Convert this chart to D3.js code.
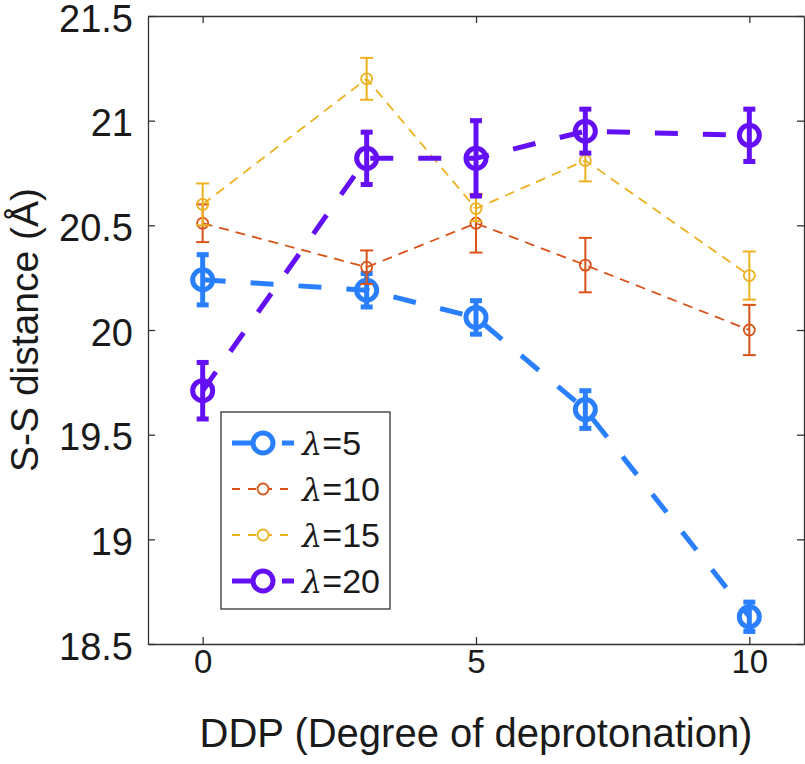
<!DOCTYPE html>
<html>
<head>
<meta charset="utf-8">
<script src="https://cdn.jsdelivr.net/npm/d3@7"></script>
<style>
  html, body { margin: 0; padding: 0; background: #fff; }
  svg { display: block; }
  text { font-family: "Liberation Sans", Arial, Helvetica, sans-serif; fill: #1a1a1a; }
</style>
</head>
<body>
<svg id="chart" width="805" height="764"></svg>
<script>
// ---------- data ----------
const ddp = [0, 3, 5, 7, 10];
const seriesLambda = ["5", "10", "15", "20"];
const lambda5  = [20.24, 20.19, 20.06, 19.62, 18.63];
const lambda5Err  = [0.12, 0.08, 0.08, 0.09, 0.07];
const lambda10 = [20.51, 20.30, 20.51, 20.31, 20.00];
const lambda10Err = [0.09, 0.08, 0.14, 0.13, 0.12];
const lambda15 = [20.60, 21.20, 20.58, 20.81, 20.26];
const lambda15Err = [0.10, 0.10, 0.06, 0.10, 0.115];
const lambda20 = [19.71, 20.82, 20.82, 20.95, 20.93];
const lambda20Err = [0.135, 0.125, 0.18, 0.105, 0.125];
const xTicks = [0, 5, 10];
const yTicks = [18.5, 19, 19.5, 20, 20.5, 21, 21.5];
const xLabel = "DDP (Degree of deprotonation)";
const yLabel = "S-S distance (Å)";

// ---------- styles ----------
const styles = [
  { color: "#2a7fff", lw: 5,   r: 10,  dash: "23,25", capW: 6,   ebw: 5 },
  { color: "#d95319", lw: 1.8, r: 5.5, dash: "10,7",  capW: 6.5, ebw: 2 },
  { color: "#edb120", lw: 1.8, r: 5.5, dash: "10,7",  capW: 6.5, ebw: 2 },
  { color: "#6410f5", lw: 5,   r: 10,  dash: "23,25", capW: 6,   ebw: 5 }
];
const values = [lambda5, lambda10, lambda15, lambda20];
const errors = [lambda5Err, lambda10Err, lambda15Err, lambda20Err];

const svg = d3.select("#chart");
const L = 148, R = 804, T = 16, B = 644;
const x = d3.scaleLinear().domain([-1, 11]).range([L, R]);
const y = d3.scaleLinear().domain([18.5, 21.5]).range([B, T]);

const axisColor = "#333";
const tickLen = 7;

// axes (box with inward ticks)
const gx = svg.append("g").attr("transform", `translate(0,${B})`)
  .call(d3.axisBottom(x).tickValues(xTicks).tickSizeInner(-tickLen).tickSizeOuter(0).tickPadding(29).tickFormat(d3.format("d")));
const gxTop = svg.append("g").attr("transform", `translate(0,${T})`)
  .call(d3.axisTop(x).tickValues(xTicks).tickSizeInner(-tickLen).tickSizeOuter(0).tickFormat(""));
const gy = svg.append("g").attr("transform", `translate(${L},0)`)
  .call(d3.axisLeft(y).tickValues(yTicks).tickSizeInner(-tickLen).tickSizeOuter(0).tickPadding(15).tickFormat(d => d3.format("")(d)));
const gyR = svg.append("g").attr("transform", `translate(${R},0)`)
  .call(d3.axisRight(y).tickValues(yTicks).tickSizeInner(-tickLen).tickSizeOuter(0).tickFormat(""));

[gx, gxTop, gy, gyR].forEach(g => {
  g.select(".domain").attr("stroke", axisColor).attr("stroke-width", 1.3);
  g.selectAll(".tick line").attr("stroke", axisColor).attr("stroke-width", 1.3);
});
gx.selectAll(".tick text").attr("font-size", 33).attr("fill", "#1a1a1a")
  .attr("font-family", "Liberation Sans, Arial, sans-serif").attr("dy", "0");
gy.selectAll(".tick text").attr("font-size", 38).attr("fill", "#1a1a1a")
  .attr("font-family", "Liberation Sans, Arial, sans-serif").attr("dy", "0.4em");

// axis labels
svg.append("text").attr("x", (L + R) / 2).attr("y", 747)
  .attr("text-anchor", "middle").attr("font-size", 40).text(xLabel);
svg.append("text").attr("transform", `translate(38,${(T + B) / 2}) rotate(-90)`)
  .attr("text-anchor", "middle").attr("font-size", 39).text(yLabel);

// series
const line = d3.line().x(d => x(d[0])).y(d => y(d[1]));
values.forEach((vals, i) => {
  const s = styles[i];
  const pts = ddp.map((d, j) => [d, vals[j], errors[i][j]]);
  const g = svg.append("g");
  g.append("path").attr("d", line(pts)).attr("fill", "none")
    .attr("stroke", s.color).attr("stroke-width", s.lw).attr("stroke-dasharray", s.dash);
  const eb = g.selectAll(".eb").data(pts).enter().append("g");
  eb.append("line").attr("x1", d => x(d[0])).attr("x2", d => x(d[0]))
    .attr("y1", d => y(d[1] - d[2])).attr("y2", d => y(d[1] + d[2]))
    .attr("stroke", s.color).attr("stroke-width", s.ebw);
  [1, -1].forEach(sign => {
    eb.append("line").attr("x1", d => x(d[0]) - s.capW).attr("x2", d => x(d[0]) + s.capW)
      .attr("y1", d => y(d[1] + sign * d[2])).attr("y2", d => y(d[1] + sign * d[2]))
      .attr("stroke", s.color).attr("stroke-width", s.ebw);
  });
  g.selectAll(".mk").data(pts).enter().append("circle")
    .attr("cx", d => x(d[0])).attr("cy", d => y(d[1])).attr("r", s.r)
    .attr("fill", "none").attr("stroke", s.color).attr("stroke-width", s.lw);
});

// legend
const lg = svg.append("g");
lg.append("rect").attr("x", 221).attr("y", 412).attr("width", 169).attr("height", 197)
  .attr("fill", "#fff").attr("stroke", axisColor).attr("stroke-width", 1.3);
const rowY = [443, 489, 535, 581];
seriesLambda.forEach((lam, i) => {
  const s = styles[i];
  lg.append("line").attr("x1", 232).attr("x2", 294).attr("y1", rowY[i]).attr("y2", rowY[i])
    .attr("stroke", s.color).attr("stroke-width", s.lw).attr("stroke-dasharray", s.lw > 3 ? "21,29" : "8,8");
  lg.append("circle").attr("cx", 263).attr("cy", rowY[i]).attr("r", s.r)
    .attr("fill", "#fff").attr("stroke", s.color).attr("stroke-width", s.lw);
  const t = lg.append("text").attr("x", 302).attr("y", rowY[i]).attr("dy", "0.36em")
    .attr("font-size", 34);
  t.append("tspan").attr("font-style", "italic").attr("font-family", "DejaVu Serif, serif").attr("font-size", 32).text("λ");
  t.append("tspan").text("=" + lam);
});
</script>
</body>
</html>
